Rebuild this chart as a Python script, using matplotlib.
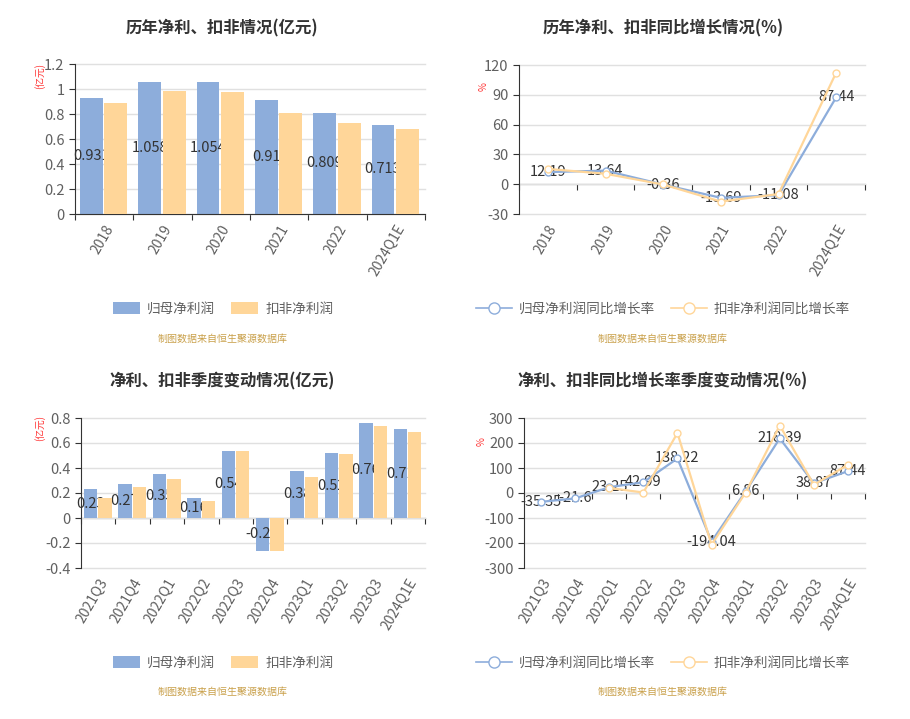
import numpy as np
import matplotlib
matplotlib.use("Agg")
import matplotlib.pyplot as plt
from matplotlib.lines import Line2D
from matplotlib.patches import Patch
from matplotlib.ticker import FuncFormatter

plt.rcParams['font.family'] = ['Noto Sans CJK SC', 'DejaVu Sans']

# ---- data ----
years = ['2018', '2019', '2020', '2021', '2022', '2024Q1E']
np_year = [0.931, 1.058, 1.054, 0.91, 0.809, 0.713]
kf_year = [0.888, 0.981, 0.979, 0.808, 0.728, 0.683]
np_year_g = [12.19, 13.64, -0.36, -13.69, -11.08, 87.44]
kf_year_g = [15.4, 10.5, -0.3, -17.5, -9.9, 112.3]

quarters = ['2021Q3', '2021Q4', '2022Q1', '2022Q2', '2022Q3', '2022Q4',
            '2023Q1', '2023Q2', '2023Q3', '2024Q1E']
np_q = [0.23, 0.27, 0.35, 0.16, 0.54, -0.26, 0.38, 0.52, 0.76, 0.71]
kf_q = [0.157, 0.251, 0.315, 0.139, 0.533, -0.261, 0.325, 0.509, 0.733, 0.685]
np_q_g = [-35.35, -21.6, 23.25, 42.99, 138.22, -194.04, 6.86, 218.39, 38.87, 87.44]
kf_q_g = [np.nan, np.nan, 20, 2, 240, -207, 2, 270, 33, 113]

BLUE = '#8DADDB'
ORANGE = '#FFD699'
TXT = '#333333'
TICK = '#606060'
GRID = '#E0E0E0'
SRC = '#C9A04A'
W, H = 910, 719

fig = plt.figure(figsize=(W / 100, H / 100), dpi=100)
fig.patch.set_facecolor('white')


def box(l, t, r, b):
  return [l / W, 1 - b / H, (r - l) / W, (b - t) / H]


def fmt(v, pos):
  return '{:g}'.format(round(v, 4))


def base(ax, cats, ylo, yhi, step, zero_axis):
  n = len(cats)
  ax.set_xlim(0, n)
  ax.set_ylim(ylo, yhi)
  ax.set_yticks(np.arange(ylo, yhi + step / 2, step))
  ax.yaxis.set_major_formatter(FuncFormatter(fmt))
  ax.grid(axis='y', color=GRID, lw=1)
  for gl in ax.get_ygridlines():
    gl.set_clip_on(False)
  ax.set_axisbelow(True)
  for s in ['top', 'right']:
    ax.spines[s].set_visible(False)
  ax.spines['left'].set_color(TXT)
  ax.tick_params(axis='y', colors=TXT, labelcolor=TICK, labelsize=10.5, length=4)
  ax.set_xticks(np.arange(n) + 0.5, minor=True)
  ax.set_xticklabels(cats, minor=True, rotation=60, ha='right',
                     rotation_mode='anchor', color=TICK, fontsize=10)
  ax.tick_params(axis='x', which='minor', length=0, pad=6)
  if zero_axis:
    ax.spines['bottom'].set_visible(False)
    ax.set_xticks([])
    sec = ax.secondary_xaxis(0, transform=ax.transData)
    sec.set_xticks(np.arange(n + 1))
    sec.set_xticklabels([])
    sec.spines['bottom'].set_color(TXT)
    sec.tick_params(axis='x', colors=TXT, length=4)
  else:
    ax.spines['bottom'].set_color(TXT)
    ax.set_xticks(np.arange(n + 1))
    ax.set_xticklabels([])
    ax.tick_params(axis='x', which='major', colors=TXT, length=4)


def bars(ax, cats, a, b):
  x = np.arange(len(cats))
  ax.bar(x + 0.28, a, width=0.39, color=BLUE, zorder=2)
  for xi, v in zip(x, a):
    ax.text(xi + 0.28, v / 2, '{:g}'.format(v), ha='center', va='center',
            fontsize=10.5, color=TXT, zorder=3)
  ax.bar(x + 0.70, b, width=0.39, color=ORANGE, zorder=4)


def lines(ax, cats, a, b):
  x = np.arange(len(cats)) + 0.5
  for xi, v in zip(x, a):
    ax.text(xi, v, '{:g}'.format(v), ha='center', va='center',
            fontsize=10.5, color=TXT, zorder=2)
  ax.plot(x, a, color=BLUE, lw=1.6, marker='o', ms=5, mfc='white',
          mec=BLUE, mew=1, zorder=3)
  ax.plot(x, b, color=ORANGE, lw=1.6, marker='o', ms=5, mfc='white',
          mec=ORANGE, mew=1, zorder=4)


def title(cx, cy, s):
  fig.text(cx / W, 1 - cy / H, s, ha='center', va='center', fontsize=11.8,
           fontweight='bold', color=TXT)


def unit(cx, cy, s):
  fig.text(cx / W, 1 - cy / H, s, ha='center', va='center', fontsize=7,
           color='#FF3333', rotation=90)


def source(cx, cy):
  fig.text(cx / W, 1 - cy / H, '制图数据来自恒生聚源数据库', ha='center',
           va='center', fontsize=7.2, color=SRC)


def bar_legend(ax, cx, cy):
  h = [Patch(facecolor=BLUE, edgecolor='none'), Patch(facecolor=ORANGE, edgecolor='none')]
  ax.legend(h, ['归母净利润', '扣非净利润'], loc='center',
            bbox_to_anchor=(cx / W, 1 - cy / H), bbox_transform=fig.transFigure,
            ncol=2, frameon=False, fontsize=9.8, labelcolor=TICK,
            handlelength=2.0, handleheight=1.0, columnspacing=1.2,
            handletextpad=0.5)


def line_legend(ax, cx, cy):
  h = [Line2D([], [], color=c, lw=1.2, marker='o', ms=8, mfc='white', mec=c)
       for c in (BLUE, ORANGE)]
  ax.legend(h, ['归母净利润同比增长率', '扣非净利润同比增长率'], loc='center',
            bbox_to_anchor=(cx / W, 1 - cy / H), bbox_transform=fig.transFigure,
            ncol=2, frameon=False, fontsize=9.8, labelcolor=TICK,
            handlelength=2.6, columnspacing=1.2, handletextpad=0.5)


# top left
ax1 = fig.add_axes(box(75, 64, 425, 214))
base(ax1, years, 0, 1.2, 0.2, False)
bars(ax1, years, np_year, kf_year)
title(222, 28, '历年净利、扣非情况(亿元)')
unit(40, 76, '(亿元)')
bar_legend(ax1, 223, 309)
source(223, 339)

# top right
ax2 = fig.add_axes(box(519, 65, 865, 214))
base(ax2, years, -30, 120, 30, True)
lines(ax2, years, np_year_g, kf_year_g)
title(663, 28, '历年净利、扣非同比增长情况(%)')
unit(484, 87, '%')
line_legend(ax2, 663, 309)
source(663, 339)

# bottom left
ax3 = fig.add_axes(box(81, 418, 425, 568))
base(ax3, quarters, -0.4, 0.8, 0.2, True)
bars(ax3, quarters, np_q, kf_q)
title(222, 381, '净利、扣非季度变动情况(亿元)')
unit(40, 428, '(亿元)')
bar_legend(ax3, 223, 663)
source(223, 692)

# bottom right
ax4 = fig.add_axes(box(524, 418, 865, 568))
base(ax4, quarters, -300, 300, 100, True)
lines(ax4, quarters, np_q_g, kf_q_g)
title(663, 381, '净利、扣非同比增长率季度变动情况(%)')
unit(482, 442, '%')
line_legend(ax4, 663, 663)
source(663, 692)

fig.savefig('out.png', dpi=100, facecolor='white')
